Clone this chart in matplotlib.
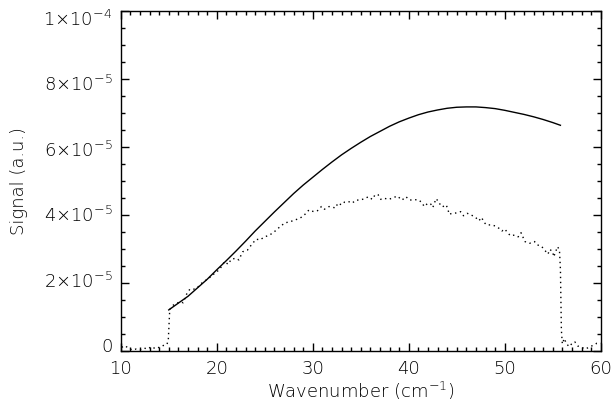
import matplotlib
matplotlib.use("Agg")
import matplotlib.pyplot as plt
import matplotlib.transforms as mtransforms
import numpy as np

# Model curve (solid), signal in units of 1e-5
model_x = [15, 16, 17, 18, 19, 20, 21, 22, 23, 24, 25, 26, 27, 28, 29, 30,
           31, 32, 33, 34, 35, 36, 37, 38, 39, 40, 41, 42, 43, 44, 45, 46,
           47, 48, 49, 50, 51, 52, 53, 54, 55, 55.8]
model_y = [1.20, 1.40, 1.60, 1.85, 2.10, 2.38, 2.65, 2.93, 3.22, 3.52, 3.80,
           4.08, 4.35, 4.62, 4.87, 5.10, 5.33, 5.55, 5.76, 5.95, 6.13, 6.30,
           6.45, 6.60, 6.73, 6.84, 6.94, 7.02, 7.08, 7.13, 7.16, 7.17, 7.17,
           7.15, 7.12, 7.07, 7.01, 6.95, 6.88, 6.80, 6.71, 6.63]

# Measured spectrum (dotted), signal in units of 1e-5
meas_x = [10.1, 10.4, 10.8, 11.2, 11.6, 12.0, 12.4, 12.8, 13.2, 13.6, 14.0,
          14.4, 14.8, 14.95, 15.1, 15.3, 15.7, 16.2, 16.5, 16.9, 17.2, 17.6,
          18.0, 18.3, 18.9, 19.3, 19.8, 20.3, 20.8, 21.2, 21.5, 22.0, 22.3,
          22.7, 23.2, 23.6, 24.1, 24.5, 25.0, 25.5, 26.0, 26.6, 27.1, 27.6,
          28.1, 28.6, 28.9, 29.3, 29.6, 30.1, 30.5, 30.9, 31.2, 31.7, 32.0,
          32.4, 32.6, 33.0, 33.3, 33.7, 34.1, 34.5, 34.9, 35.4, 35.8, 36.2,
          36.5, 36.8, 37.1, 37.5, 37.9, 38.4, 38.8, 39.3, 39.7, 40.1, 40.5,
          41.0, 41.4, 41.6, 42.0, 42.3, 42.5, 42.7, 42.8, 43.1, 43.3, 43.5,
          43.9, 44.1, 44.2, 44.5, 44.9, 45.4, 45.7, 46.1, 46.5, 46.9, 47.3,
          47.6, 47.8, 48.1, 48.6, 49.0, 49.4, 49.7, 50.0, 50.3, 50.6, 51.0,
          51.4, 51.7, 52.1, 52.6, 53.1, 53.4, 53.8, 54.1, 54.5, 54.7, 55.0,
          55.1, 55.3, 55.5, 55.7, 55.8, 55.85, 55.9, 56.0, 56.2, 56.4, 56.7,
          57.1, 57.3, 57.6, 58.0, 58.4, 58.9, 59.3, 59.6, 60.0]
meas_y = [0.10, 0.15, 0.08, 0.02, 0.05, 0.03, 0.08, 0.05, 0.12, 0.06, 0.10,
          0.15, 0.18, 0.30, 1.20, 1.31, 1.38, 1.44, 1.41, 1.69, 1.81, 1.81,
          1.86, 1.96, 2.08, 2.16, 2.28, 2.39, 2.62, 2.54, 2.69, 2.72, 2.67,
          2.91, 2.96, 3.11, 3.28, 3.26, 3.35, 3.40, 3.50, 3.65, 3.76, 3.79,
          3.84, 3.89, 3.94, 4.04, 4.14, 4.09, 4.12, 4.24, 4.16, 4.24, 4.22,
          4.20, 4.34, 4.29, 4.37, 4.39, 4.34, 4.43, 4.43, 4.47, 4.53, 4.45,
          4.59, 4.59, 4.45, 4.48, 4.45, 4.50, 4.55, 4.43, 4.53, 4.43, 4.44,
          4.44, 4.35, 4.24, 4.34, 4.31, 4.21, 4.35, 4.47, 4.40, 4.28, 4.23,
          4.29, 4.14, 4.01, 4.04, 4.05, 4.09, 3.97, 4.04, 3.99, 3.94, 3.82,
          3.92, 3.79, 3.70, 3.70, 3.67, 3.60, 3.52, 3.58, 3.47, 3.38, 3.40,
          3.35, 3.47, 3.21, 3.16, 3.21, 3.11, 3.08, 2.98, 2.84, 2.98, 2.91,
          2.76, 2.91, 3.06, 2.96, 2.40, 1.50, 0.60, 0.20, 0.36, 0.22, 0.12,
          0.24, 0.26, 0.14, 0.10, 0.05, 0.12, 0.17, 0.22, 0.22]

ytick_vals = [0, 2e-5, 4e-5, 6e-5, 8e-5, 1e-4]
ytick_labels = ['0', r'$2{\times}10^{-5}$', r'$4{\times}10^{-5}$',
                r'$6{\times}10^{-5}$', r'$8{\times}10^{-5}$', r'$1{\times}10^{-4}$']
xtick_vals = [10, 20, 30, 40, 50, 60]

plt.rcParams['mathtext.default'] = 'regular'
plt.rcParams['font.family'] = ['DejaVu Sans']
plt.rcParams['font.weight'] = 'light'
plt.rcParams['axes.labelweight'] = 'light'

fig = plt.figure(figsize=(6.13, 4.08), dpi=100)
ax = fig.add_axes([0.197, 0.1404, 0.783, 0.8334])

ax.plot(model_x, np.array(model_y) * 1e-5, color='black', lw=1.0)
ax.plot(meas_x, np.array(meas_y) * 1e-5, color='black', lw=1.0,
        linestyle=(0, (1.0, 2.6)))

ax.set_xlim(10, 60)
ax.set_ylim(0, 1e-4)
ax.set_xticks(xtick_vals)
ax.set_xticklabels([str(v) for v in xtick_vals])
ax.set_xticks(np.arange(10, 61, 1), minor=True)
ax.set_yticks(ytick_vals)
ax.set_yticklabels(ytick_labels)
ax.set_yticks(np.arange(0, 1.0001e-4, 0.5e-5), minor=True)

ax.tick_params(which='both', direction='in', top=True, right=True,
               labelsize=13, width=1.0, color='black')
ax.tick_params(which='major', length=6)
ax.tick_params(which='minor', length=3.2)
ax.tick_params(axis='x', which='major', pad=7)
ax.tick_params(axis='y', which='major', pad=6)
for sp in ax.spines.values():
    sp.set_linewidth(1.0)

# IDL-like label placement offsets on y
for lbl, v in zip(ax.get_yticklabels(), ytick_vals):
    frac = v / 1e-4
    dy = (5.7 - 13 * frac) / 100.0
    lbl.set_transform(lbl.get_transform() +
                      mtransforms.ScaledTranslation(0, dy, fig.dpi_scale_trans))

ax.set_xlabel(r'Wavenumber (cm$^{-1}$)', fontsize=13, fontweight='light',
              labelpad=1)
ax.set_ylabel('Signal (a.u.)', fontsize=13, fontweight='light', labelpad=11)

fig.savefig('out.png', dpi=100)
